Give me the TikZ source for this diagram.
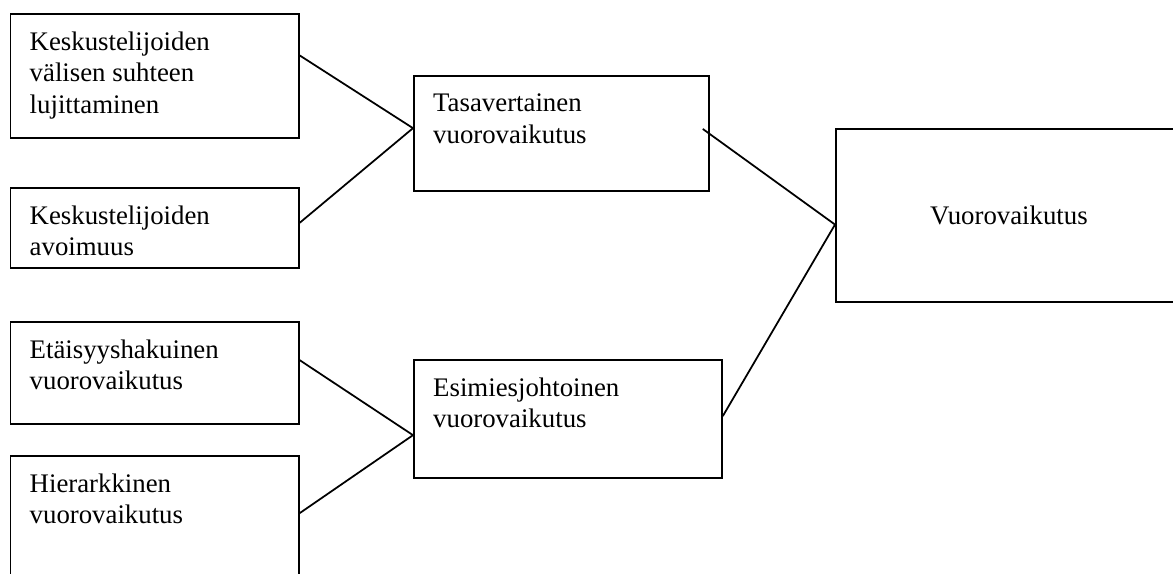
\documentclass[tikz,border=0pt]{standalone}
\usepackage{fontspec}
\setmainfont{Liberation Serif}
\usetikzlibrary{shapes}

\begin{document}
\begin{tikzpicture}[x=0.4552pt,y=-0.4552pt]
	\tikzstyle{laatikko}=[rectangle,draw,line width=0.8pt,anchor=north west,inner sep=0pt,font=\fontsize{12.2}{14.2}\selectfont]
	\tikzstyle{teksti}=[anchor=north west,align=left,inner sep=0pt,xshift=9pt,yshift=-8.5pt,font=\fontsize{12.2}{14.2}\selectfont]
	\tikzstyle{viiva}=[line width=0.8pt]
	\useasboundingbox (0,0) rectangle (1173,573);
	
	\node[laatikko,minimum width=131.3pt,minimum height=56.4pt,label={[teksti]north west:{Keskustelijoiden\\välisen suhteen\\lujittaminen}}](k1) at (9.5,13) {};
	\node[laatikko,minimum width=131.3pt,minimum height=36.4pt,label={[teksti]north west:{Keskustelijoiden\\avoimuus}}](k2) at (9.5,187) {};
	\node[laatikko,minimum width=131.3pt,minimum height=46.4pt,label={[teksti]north west:{Etäisyyshakuinen\\vuorovaikutus}}](k3) at (9.5,321) {};
	\node[laatikko,minimum width=131.3pt,minimum height=66pt,label={[teksti]north west:{Hierarkkinen\\vuorovaikutus}}](k4) at (9.5,455) {};
	
	\node[laatikko,minimum width=134.3pt,minimum height=52.3pt,label={[teksti]north west:{Tasavertainen\\vuorovaikutus}}](tasa) at (413,75) {};
	\node[laatikko,minimum width=140.2pt,minimum height=53.7pt,label={[teksti]north west:{Esimiesjohtoinen\\vuorovaikutus}}](esim) at (413,359) {};
	
	\node[laatikko,minimum width=157.5pt,minimum height=78.8pt](vuoro) at (835,128) {Vuorovaikutus};
	
	\draw[viiva] (k1.8.7) -- (tasa.178);
	\draw[viiva] (k2.2) -- (tasa.178);
	\draw[viiva] (k3.5) -- (esim.186);
	\draw[viiva] (k4.6) -- (esim.186);
	\draw[viiva] ([xshift=-3.2pt,yshift=2pt]tasa.east) -- (vuoro.183);
	\draw[viiva] (esim.1) -- (vuoro.183);
\end{tikzpicture}
\end{document}
